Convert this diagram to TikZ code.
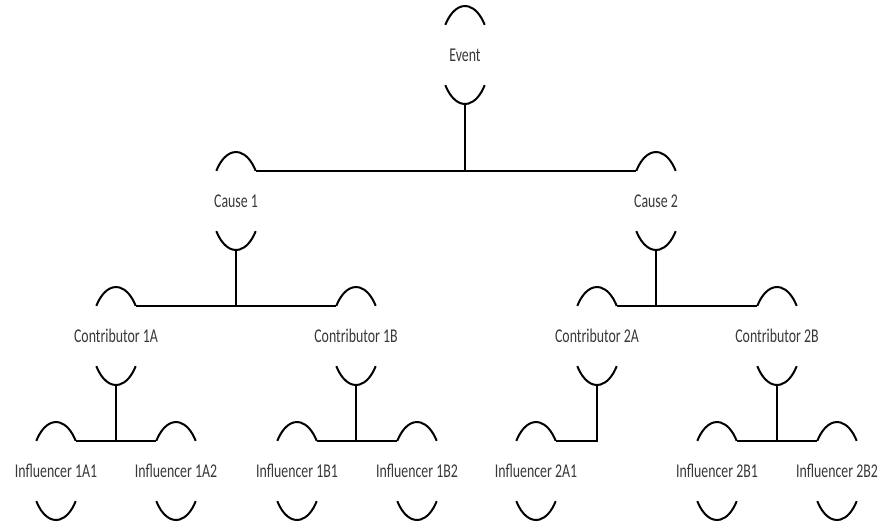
\documentclass[tikz,border=0pt]{standalone}
\usepackage{fontspec}
\setmainfont{Carlito}
\newcommand{\narrowtext}[1]{\scalebox{0.71}[1]{#1}}
\begin{document}
\begin{tikzpicture}[x=1pt,y=1pt,
  arcline/.style={line width=2pt, black},
  linkline/.style={line width=2pt, black},
  lbl/.style={inner sep=0pt, font=\fontsize{19.5}{21}\selectfont, text=black!78},
  pics/fish/.style={code={
    \node[lbl] (-c) at (0,0) {\narrowtext{#1}};
    \coordinate (-tl) at (142:25pt and 49pt);
    \coordinate (-tr) at (38:25pt and 49pt);
    \coordinate (-b) at (0,-49);
    % top and bottom pieces of an ellipse round the label
    \draw[arcline] (-tl) arc[start angle=142, end angle=38, x radius=25pt, y radius=49pt];
    \draw[arcline] (218:25pt and 49pt) arc[start angle=218, end angle=322, x radius=25pt, y radius=49pt];
  }}]
\useasboundingbox (0,0) rectangle (881,-523);

% event
\pic (ev) at (465,-55) {fish={Event}};
% causes
\pic (ca) at (236,-201) {fish={Cause 1}};
\pic (cb) at (656,-201) {fish={Cause 2}};
% contributors
\pic (k1a) at (116,-336) {fish={Contributor 1A}};
\pic (k1b) at (356,-336) {fish={Contributor 1B}};
\pic (k2a) at (597,-336) {fish={Contributor 2A}};
\pic (k2b) at (777,-336) {fish={Contributor 2B}};
% influencers
\pic (f1a1) at (56,-471) {fish={Influencer 1A1}};
\pic (f1a2) at (176,-471) {fish={Influencer 1A2}};
\pic (f1b1) at (297,-471) {fish={Influencer 1B1}};
\pic (f1b2) at (417,-471) {fish={Influencer 1B2}};
\pic (f2a1) at (536,-471) {fish={Influencer 2A1}};
\pic (f2b1) at (717,-471) {fish={Influencer 2B1}};
\pic (f2b2) at (837,-471) {fish={Influencer 2B2}};

% links: parent stem down to a bar joining the children's top arcs
\draw[linkline] (ca-tr) -- (cb-tl);
\draw[linkline] (ev-b) -- (ev-b |- ca-tr);

\draw[linkline] (k1a-tr) -- (k1b-tl);
\draw[linkline] (ca-b) -- (ca-b |- k1a-tr);
\draw[linkline] (k2a-tr) -- (k2b-tl);
\draw[linkline] (cb-b) -- (cb-b |- k2a-tr);

\draw[linkline] (f1a1-tr) -- (f1a2-tl);
\draw[linkline] (k1a-b) -- (k1a-b |- f1a1-tr);
\draw[linkline] (f1b1-tr) -- (f1b2-tl);
\draw[linkline] (k1b-b) -- (k1b-b |- f1b1-tr);
\draw[linkline] (k2a-b) |- (f2a1-tr);
\draw[linkline] (f2b1-tr) -- (f2b2-tl);
\draw[linkline] (k2b-b) -- (k2b-b |- f2b1-tr);
\end{tikzpicture}
\end{document}
